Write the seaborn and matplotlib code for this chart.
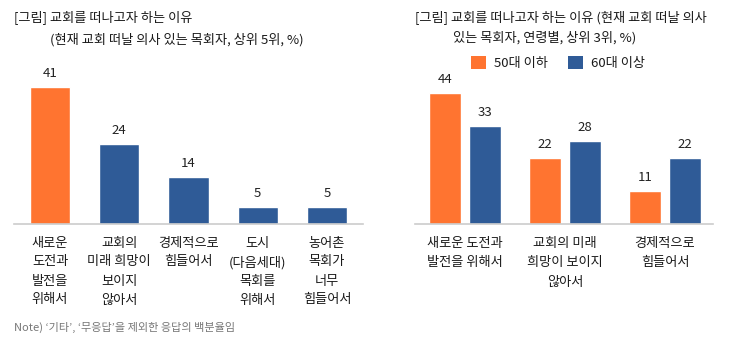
import matplotlib
matplotlib.use("Agg")
import matplotlib.pyplot as plt
from matplotlib.patches import Patch
import seaborn as sns
import pandas as pd

# ---- data ----
left_categories = ["새로운\n도전과\n발전을\n위해서", "교회의\n미래 희망이\n보이지\n않아서",
                   "경제적으로\n힘들어서", "도시\n(다음세대)\n목회를\n위해서", "농어촌\n목회가\n너무\n힘들어서"]
left_values = [41, 24, 14, 5, 5]

right_categories = ["새로운 도전과\n발전을 위해서", "교회의 미래\n희망이 보이지\n않아서", "경제적으로\n힘들어서"]
age_groups = ["50대 이하", "60대 이상"]
values_50 = [44, 22, 11]
values_60 = [33, 28, 22]

left_title_1 = "[그림] 교회를 떠나고자 하는 이유"
left_title_2 = "(현재 교회 떠날 의사 있는 목회자, 상위 5위, %)"
right_title_1 = "[그림] 교회를 떠나고자 하는 이유 (현재 교회 떠날 의사"
right_title_2 = "있는 목회자, 연령별, 상위 3위, %)"
note_text = "Note) ‘기타’, ‘무응답’을 제외한 응답의 백분율임"

ORANGE = "#FF7430"
BLUE = "#2F5B97"

sns.set_theme(style="white")
plt.rcParams["font.family"] = ["Noto Sans CJK KR", "DejaVu Sans"]

W, H = 729, 342
fig = plt.figure(figsize=(W / 100, H / 100), dpi=100)

def fx(px):
    return px / W

def fy(py):
    return 1 - py / H

# ---- left panel ----
base = 224
l_scale = 3.34  # px per unit
l_top_val = 50
ax1 = fig.add_axes([fx(14), fy(base), fx(363) - fx(14), (l_top_val * l_scale) / H])
df_left = pd.DataFrame({"cat": left_categories, "val": left_values})
left_colors = [ORANGE] + [BLUE] * (len(left_categories) - 1)
sns.barplot(data=df_left, x="cat", y="val", hue="cat", palette=left_colors,
            legend=False, width=0.58, ax=ax1, saturation=1)
ax1.set_ylim(0, l_top_val)
ax1.set_xlim(-0.52, 4.52)
for c in ax1.containers:
    ax1.bar_label(c, fmt="%d", padding=5, fontsize=9.5, color="#222222")

# ---- right panel ----
r_scale = 2.98
r_top_val = 55
ax2 = fig.add_axes([fx(415), fy(base), fx(713) - fx(415), (r_top_val * r_scale) / H])
df_right = pd.DataFrame({
    "cat": right_categories * 2,
    "age": [age_groups[0]] * 3 + [age_groups[1]] * 3,
    "val": values_50 + values_60,
})
sns.barplot(data=df_right, x="cat", y="val", hue="age", palette=[ORANGE, BLUE],
            width=0.8, gap=0.2, ax=ax2, saturation=1, legend=False)
ax2.set_ylim(0, r_top_val)
ax2.set_xlim(-0.5, 2.48)
for c in ax2.containers:
    ax2.bar_label(c, fmt="%d", padding=5, fontsize=9.5, color="#222222")

for ax, ls, pad in ((ax1, 1.6, 9), (ax2, 1.65, 9)):
    ax.set_xlabel("")
    ax.set_ylabel("")
    ax.set_yticks([])
    for s in ("top", "right", "left"):
        ax.spines[s].set_visible(False)
    ax.spines["bottom"].set_color("#CCCCCC")
    ax.spines["bottom"].set_linewidth(1.2)
    ax.tick_params(axis="x", length=0, pad=pad, labelsize=9.5, labelcolor="#1a1a1a")
    for t in ax.get_xticklabels():
        t.set_linespacing(ls)
        t.set_verticalalignment("top")
    ax.set_facecolor("none")

# ---- legend ----
handles = [Patch(facecolor=ORANGE, edgecolor="none"), Patch(facecolor=BLUE, edgecolor="none")]
fig.legend(handles, age_groups, loc="center", bbox_to_anchor=(fx(558), fy(63)), ncol=2,
           frameon=False, fontsize=9.5, handlelength=1.1, handleheight=1.1,
           handletextpad=0.6, columnspacing=1.6, labelcolor="#1a1a1a")

# ---- titles ----
tkw = dict(fontsize=9.5, color="#1a1a1a", va="center", ha="left")
fig.text(fx(14), fy(17), left_title_1, **tkw)
fig.text(fx(50), fy(40), left_title_2, **tkw)
fig.text(fx(415), fy(17), right_title_1, **tkw)
fig.text(fx(453), fy(38), right_title_2, **tkw)

fig.text(fx(14), fy(327), note_text, fontsize=8, color="#777777", va="center", ha="left")

fig.savefig("out.png", dpi=100, facecolor="white")
